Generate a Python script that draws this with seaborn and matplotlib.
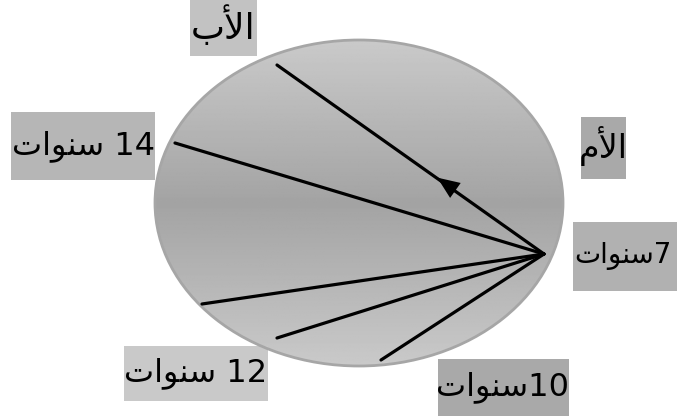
import re
import numpy as np
import pandas as pd
import matplotlib
matplotlib.use("Agg")
import matplotlib.pyplot as plt
from matplotlib.patches import Ellipse, Rectangle
import seaborn as sns

# labels (logical order, arabic)
labels = ["الأب", "14 سنوات", "الأم", "7سنوات", "12 سنوات", "10سنوات"]
label_x = [223, 83, 603, 574, 196, 503]
label_y = [26, 146, 146, 256, 373, 387]
label_ha = ["center", "center", "center", "left", "center", "center"]
label_size = [26, 23, 24, 20, 23, 23]
box_x0 = [190, 11, 581, 573, 124, 438]
box_y0 = [0, 112, 117, 222, 346, 359]
box_x1 = [257, 155, 626, 680, 268, 569]
box_y1 = [56, 180, 179, 291, 401, 416]
box_col = ["#c2c2c2", "#b6b6b6", "#a9a9a9", "#b1b1b1", "#c9c9c9", "#a9a9a9"]

# lines, all leave from the same point on the right
origin_x, origin_y = 544, 254
end_x = [277, 175, 202, 277, 381]
end_y = [65, 143, 304, 338, 360]

# arrow on the first line
arrow_tip = (435, 176)

FORMS = {
    'ا': ('\uFE8D', '\uFE8E', None, None),
    'أ': ('\uFE83', '\uFE84', None, None),
    'ب': ('\uFE8F', '\uFE90', '\uFE91', '\uFE92'),
    'ت': ('\uFE95', '\uFE96', '\uFE97', '\uFE98'),
    'س': ('\uFEB1', '\uFEB2', '\uFEB3', '\uFEB4'),
    'ل': ('\uFEDD', '\uFEDE', '\uFEDF', '\uFEE0'),
    'م': ('\uFEE1', '\uFEE2', '\uFEE3', '\uFEE4'),
    'ن': ('\uFEE5', '\uFEE6', '\uFEE7', '\uFEE8'),
    'و': ('\uFEED', '\uFEEE', None, None),
    'لأ': ('\uFEF7', '\uFEF8', None, None),
    'لا': ('\uFEFB', '\uFEFC', None, None),
}


def shape_word(s):
    chars = []
    i = 0
    while i < len(s):
        if s[i] == 'ل' and i + 1 < len(s) and s[i + 1] in 'أا':
            chars.append(s[i:i + 2])
            i += 2
        else:
            chars.append(s[i])
            i += 1
    out = []
    for k, c in enumerate(chars):
        if c not in FORMS:
            out.append(c)
            continue
        f = FORMS[c]
        prev = chars[k - 1] if k > 0 else None
        nxt = chars[k + 1] if k + 1 < len(chars) else None
        jp = prev in FORMS and FORMS[prev][2] is not None
        jn = f[2] is not None and nxt in FORMS
        if jp and jn:
            out.append(f[3])
        elif jp:
            out.append(f[1])
        elif jn:
            out.append(f[2])
        else:
            out.append(f[0])
    return ''.join(out)


def visual(s):
    # shape the arabic letters and put the runs in display order (rtl)
    runs = re.findall(r'[\u0600-\u06FF]+|\s+|[^\u0600-\u06FF\s]+', s)
    runs = [shape_word(r)[::-1] if re.match(r'[\u0600-\u06FF]', r) else r for r in runs]
    return ''.join(runs[::-1])


sns.set_style("white")
plt.rcParams['font.family'] = ['DejaVu Sans']

fig = plt.figure(figsize=(6.77, 4.16), dpi=100)
ax = fig.add_axes([0, 0, 1, 1])

# ellipse with grey vertical gradient
cx, cy, w, h = 359, 203, 408, 326
ell = Ellipse((cx, cy), w, h, facecolor="none", edgecolor="#a6a6a6", lw=2, zorder=3)
ax.add_patch(ell)
yy = np.linspace(0, 1, 300)
shade = np.interp(yy, [0, 0.5, 1], [0.79, 0.64, 0.79])
grad = np.repeat(shade[:, None], 2, axis=1)
im = ax.imshow(grad, cmap="gray", vmin=0, vmax=1, aspect="auto",
               extent=(cx - w / 2, cx + w / 2, cy + h / 2, cy - h / 2), zorder=1)
clip = Ellipse((cx, cy), w, h, transform=ax.transData)
im.set_clip_path(clip)

# lines
seg = []
for i, (ex, ey) in enumerate(zip(end_x, end_y)):
    seg.append({"seg": i, "x": origin_x, "y": origin_y})
    seg.append({"seg": i, "x": ex, "y": ey})
df = pd.DataFrame(seg)
sns.lineplot(data=df, x="x", y="y", units="seg", estimator=None, sort=False,
             color="black", lw=2.3, ax=ax, zorder=4)
ax.set_xlim(0, 677)
ax.set_ylim(416, 0)
ax.axis("off")

dx = end_x[0] - origin_x
dy = end_y[0] - origin_y
n = np.hypot(dx, dy)
ax.annotate("", xy=arrow_tip,
            xytext=(arrow_tip[0] - dx / n * 20, arrow_tip[1] - dy / n * 20),
            arrowprops=dict(arrowstyle="-|>,head_length=0.8,head_width=0.33",
                            mutation_scale=20, color="black", lw=0),
            zorder=5)

# label boxes
for t, x, y, ha, fs, x0, y0, x1, y1, c in zip(labels, label_x, label_y, label_ha, label_size,
                                              box_x0, box_y0, box_x1, box_y1, box_col):
    ax.add_patch(Rectangle((x0, y0), x1 - x0, y1 - y0, facecolor=c,
                           edgecolor="none", zorder=2))
    ax.text(x, y, visual(t), ha=ha, va="center", fontsize=fs, color="black", zorder=6)

fig.savefig("out.png", dpi=100)
